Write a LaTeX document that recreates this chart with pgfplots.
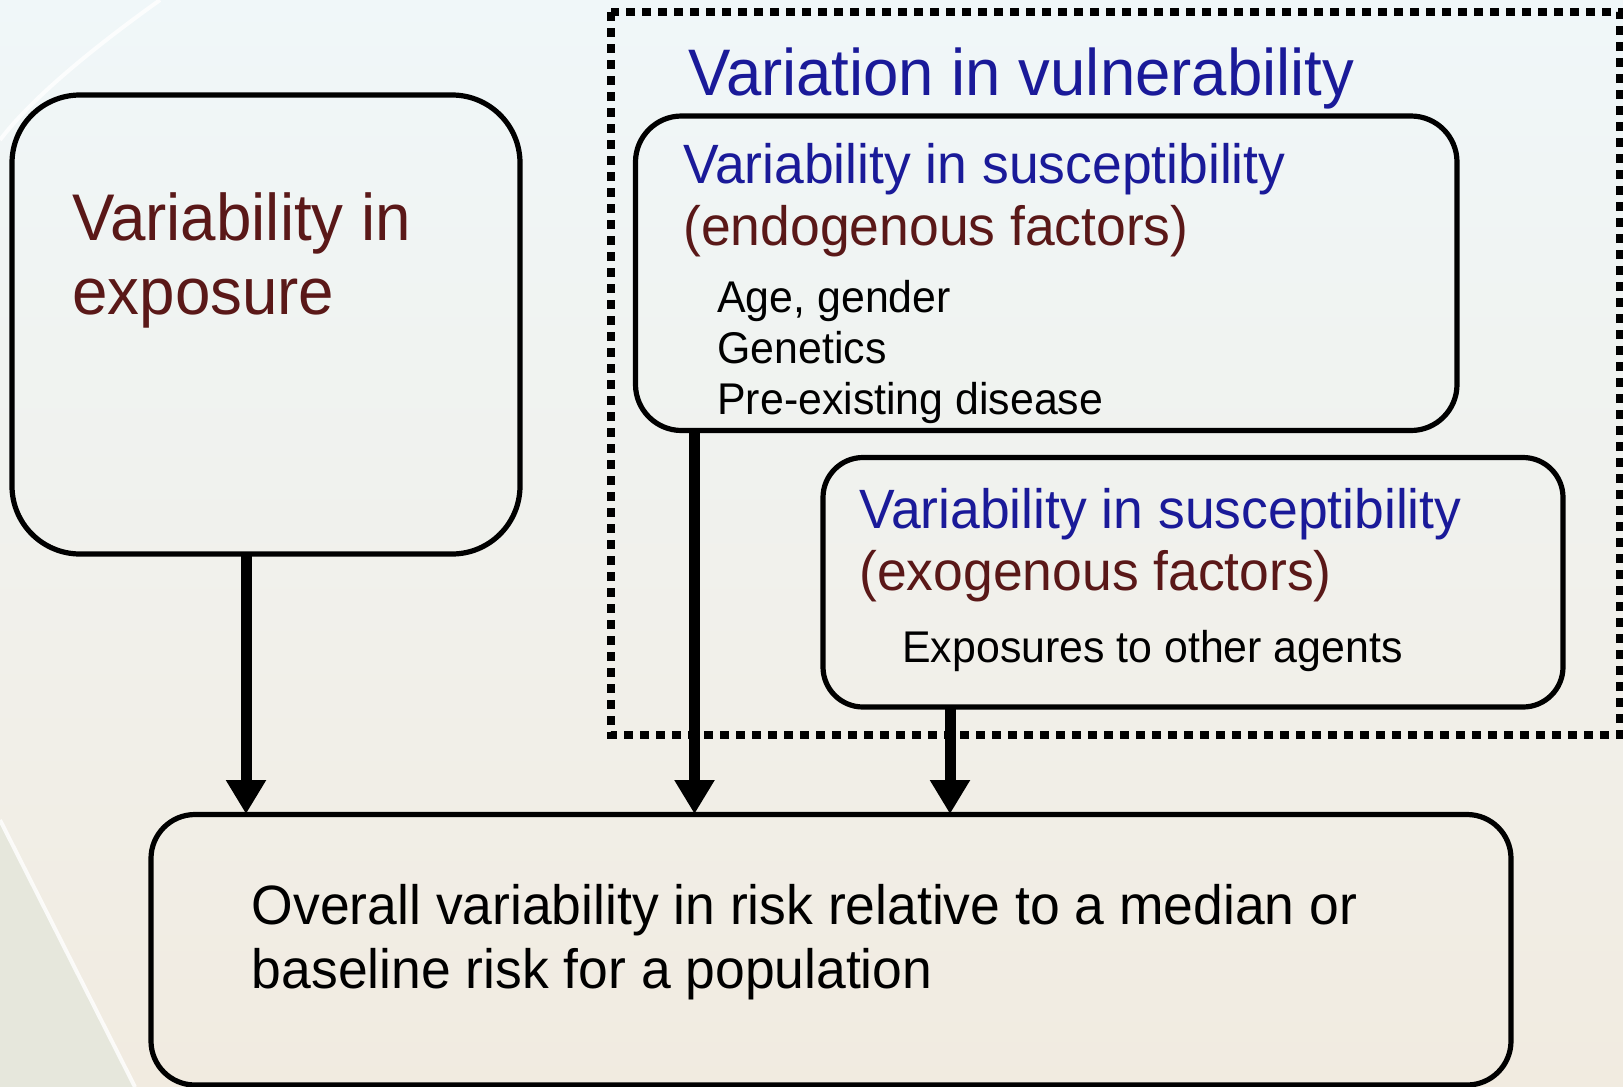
\documentclass[border=0pt]{standalone}
\usepackage{pgfplots}
\pgfplotsset{compat=1.18}
\usepackage{fontspec}
\setmainfont{Liberation Sans}[FakeStretch=0.965]
\usetikzlibrary{arrows.meta}
\definecolor{maroon}{RGB}{90,24,24}
\definecolor{dblue}{RGB}{26,26,153}
\definecolor{bgtop}{RGB}{240,247,249}
\definecolor{bgmid}{RGB}{247,247,241}
\definecolor{bgbot}{RGB}{241,235,224}
\definecolor{bggray}{RGB}{230,231,220}
\begin{document}
\begin{tikzpicture}
\useasboundingbox (0,0) rectangle (811.5pt,543.5pt);
\clip (0,0) rectangle (811.5pt,543.5pt);
\shade[top color=bgtop, middle color=bgmid, bottom color=bgbot] (0,0) rectangle (811.5pt,543.5pt);
\begin{axis}[at={(0pt,543.5pt)}, anchor=origin, x=0.5pt, y=0.5pt,
  xmin=0, xmax=1623, ymin=0, ymax=1087, y dir=reverse,
  hide axis, clip=false]
% background decoration
\fill[bggray] (axis cs:0,820) -- (axis cs:135,1087) -- (axis cs:0,1087) -- cycle;
\draw[white, line width=2pt, opacity=0.8] (axis cs:0,820) -- (axis cs:135,1087);
\draw[white, line width=2pt, opacity=0.8] (axis cs:160,0) .. controls (axis cs:90,50) and (axis cs:30,100) .. (axis cs:0,140);
% dotted vulnerability box
\draw[black, line width=3.8pt, dash pattern=on 4.6pt off 3.4pt] (axis cs:611,12) rectangle (axis cs:1620,735);
% boxes
\draw[black, line width=2.6pt, rounded corners=34pt] (axis cs:12,95) rectangle (axis cs:520,554);
\draw[black, line width=2.6pt, rounded corners=23pt] (axis cs:635.5,116) rectangle (axis cs:1457,430.5);
\draw[black, line width=2.6pt, rounded corners=20pt] (axis cs:823,457.5) rectangle (axis cs:1563,707);
\draw[black, line width=2.6pt, rounded corners=22pt] (axis cs:151,814.5) rectangle (axis cs:1511,1085);
% arrows
\addplot[black, line width=5.5pt, -{Triangle[width=19pt,length=17pt]}] coordinates {(246,554) (246,814)};
\addplot[black, line width=5.5pt, -{Triangle[width=19pt,length=17pt]}] coordinates {(694.5,430.5) (694.5,814)};
\addplot[black, line width=5.5pt, -{Triangle[width=19pt,length=17pt]}] coordinates {(950,707) (950,814)};
% texts
\node[anchor=base west, inner sep=0, text=dblue, font=\fontsize{32.9}{40}\selectfont] at (axis cs:688,95) {Variation in vulnerability};
\node[anchor=base west, inner sep=0, text=maroon, font=\fontsize{33}{40}\selectfont] at (axis cs:72,240) {Variability in};
\node[anchor=base west, inner sep=0, text=maroon, font=\fontsize{33}{40}\selectfont] at (axis cs:72,314) {exposure};
\node[anchor=base west, inner sep=0, text=dblue, font=\fontsize{27.7}{33}\selectfont] at (axis cs:683,183) {Variability in susceptibility};
\node[anchor=base west, inner sep=0, text=maroon, font=\fontsize{27.7}{33}\selectfont] at (axis cs:683,245) {(endogenous factors)};
\node[anchor=base west, inner sep=0, text=black, font=\fontsize{22.2}{26}\selectfont] at (axis cs:717,312) {Age, gender};
\node[anchor=base west, inner sep=0, text=black, font=\fontsize{22.2}{26}\selectfont] at (axis cs:717,363) {Genetics};
\node[anchor=base west, inner sep=0, text=black, font=\fontsize{22.2}{26}\selectfont] at (axis cs:717,414) {Pre-existing disease};
\node[anchor=base west, inner sep=0, text=dblue, font=\fontsize{27.7}{33}\selectfont] at (axis cs:859,528) {Variability in susceptibility};
\node[anchor=base west, inner sep=0, text=maroon, font=\fontsize{27.7}{33}\selectfont] at (axis cs:859,590) {(exogenous factors)};
\node[anchor=base west, inner sep=0, text=black, font=\fontsize{22.2}{26}\selectfont] at (axis cs:902,662) {Exposures to other agents};
\node[anchor=base west, inner sep=0, text=black, font=\fontsize{27.7}{33}\selectfont] at (axis cs:251.5,924) {Overall variability in risk relative to a median or};
\node[anchor=base west, inner sep=0, text=black, font=\fontsize{27.7}{33}\selectfont] at (axis cs:251.5,988) {baseline risk for a population};
\end{axis}
\end{tikzpicture}
\end{document}
